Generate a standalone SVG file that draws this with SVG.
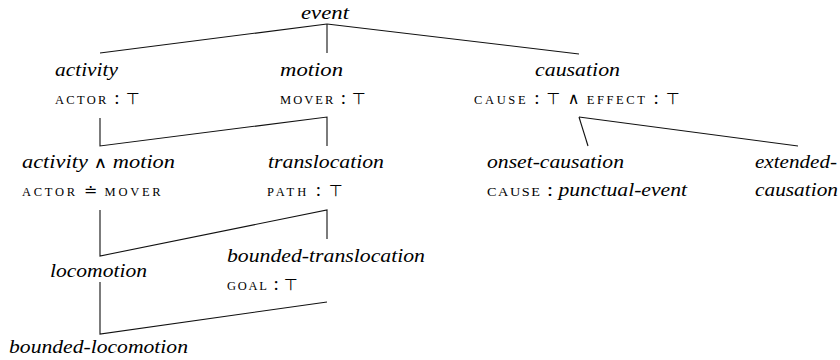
<svg xmlns="http://www.w3.org/2000/svg" width="840" height="360" viewBox="0 0 840 360">
<style>
  text { font-family: "Liberation Serif", "DejaVu Serif", serif; font-size: 19px; fill: #000; }
  .it { font-style: italic; }
  .sc { font-size: 12.5px; letter-spacing: 1.4px; font-style: normal; }
  .top { font-family: "DejaVu Sans", sans-serif; font-size: 16px; font-style: normal; }
  .op { font-family: "DejaVu Sans", sans-serif; font-size: 16px; font-style: normal; }
  .conn path { fill: none; stroke: #111; stroke-width: 1.1; }
</style>
<rect width="840" height="360" fill="#ffffff"/>
<g class="conn" id="connectors">
  <path d="M327,24 L100,53"/>
  <path d="M327,24 L327,53"/>
  <path d="M327,24 L579,54"/>
  <path d="M100,118 V146 L327,117 V146"/>
  <path d="M579,117 L588,146"/>
  <path d="M579,117 L798,146"/>
  <path d="M100,210 V256 L327,210 V239"/>
  <path d="M100,282 V334 L327,302"/>
</g>
<g id="event"><text class="it" x="301" y="19" textLength="48" lengthAdjust="spacingAndGlyphs">event</text></g>
<g id="activity">
  <text class="it" x="55" y="76" textLength="63" lengthAdjust="spacingAndGlyphs">activity</text>
  <text x="55" y="104" textLength="85" lengthAdjust="spacing"><tspan class="sc">ACTOR</tspan> : <tspan class="top">⊤</tspan></text>
</g>
<g id="motion">
  <text class="it" x="280" y="76" textLength="63" lengthAdjust="spacingAndGlyphs">motion</text>
  <text x="280" y="104" textLength="86" lengthAdjust="spacing"><tspan class="sc">MOVER</tspan> : <tspan class="top">⊤</tspan></text>
</g>
<g id="causation">
  <text class="it" x="535" y="76" textLength="85" lengthAdjust="spacingAndGlyphs">causation</text>
  <text x="474" y="104" textLength="206" lengthAdjust="spacing"><tspan class="sc">CAUSE</tspan> : <tspan class="top">⊤</tspan> <tspan class="op">∧</tspan> <tspan class="sc">EFFECT</tspan> : <tspan class="top">⊤</tspan></text>
</g>
<g id="activity-motion">
  <text class="it" x="22" y="168" textLength="153" lengthAdjust="spacingAndGlyphs">activity <tspan class="op">∧</tspan> motion</text>
  <text x="22" y="196" textLength="140" lengthAdjust="spacing"><tspan class="sc">ACTOR</tspan> <tspan class="op">≐</tspan> <tspan class="sc">MOVER</tspan></text>
</g>
<g id="translocation">
  <text class="it" x="268" y="168" textLength="116" lengthAdjust="spacingAndGlyphs">translocation</text>
  <text x="267" y="196" textLength="76" lengthAdjust="spacing"><tspan class="sc">PATH</tspan> : <tspan class="top">⊤</tspan></text>
</g>
<g id="onset-causation">
  <text class="it" x="487" y="168" textLength="137" lengthAdjust="spacingAndGlyphs">onset-causation</text>
  <text x="487" y="196" textLength="200" lengthAdjust="spacingAndGlyphs"><tspan class="sc">CAUSE</tspan> : <tspan class="it">punctual-event</tspan></text>
</g>
<g id="extended-causation">
  <text class="it" x="755" y="168" textLength="82" lengthAdjust="spacingAndGlyphs">extended-</text>
  <text class="it" x="755" y="196" textLength="83" lengthAdjust="spacingAndGlyphs">causation</text>
</g>
<g id="locomotion">
  <text class="it" x="50" y="277" textLength="97" lengthAdjust="spacingAndGlyphs">locomotion</text>
</g>
<g id="bounded-translocation">
  <text class="it" x="227" y="262" textLength="198" lengthAdjust="spacingAndGlyphs">bounded-translocation</text>
  <text x="227" y="290" textLength="71" lengthAdjust="spacing"><tspan class="sc">GOAL</tspan> : <tspan class="top">⊤</tspan></text>
</g>
<g id="bounded-locomotion">
  <text class="it" x="9" y="353" textLength="179" lengthAdjust="spacingAndGlyphs">bounded-locomotion</text>
</g>
</svg>
